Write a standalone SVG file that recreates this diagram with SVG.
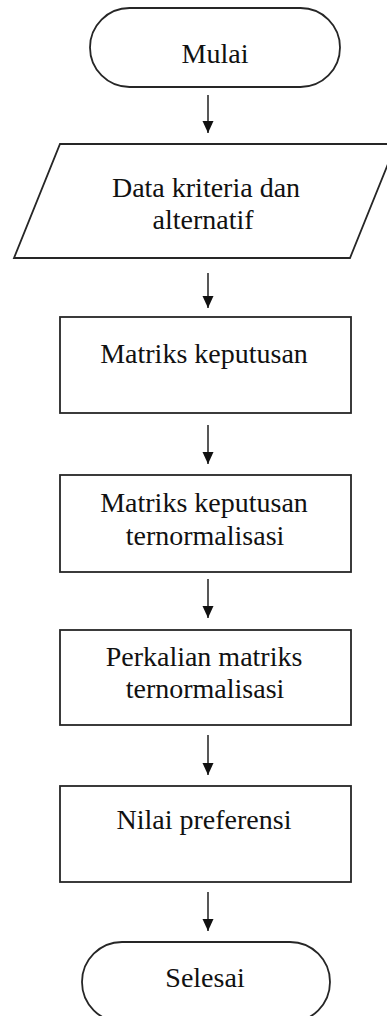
<svg xmlns="http://www.w3.org/2000/svg" width="387" height="1016" viewBox="0 0 387 1016">
<style>
.shape{fill:#fff;stroke:#262626;stroke-width:1.8}
.lbl{font-size:28px;fill:#111;text-anchor:middle}
.conn{stroke:#111;stroke-width:1.4;fill:none}
</style>
<defs>
<marker id="ah" markerUnits="userSpaceOnUse" markerWidth="12" markerHeight="13" viewBox="0 0 12 13" refX="12" refY="6.5" orient="auto">
<path d="M0,1 L12,6.5 L0,12 z" fill="#111"/>
</marker>
</defs>
<rect width="387" height="1016" fill="#fff"/>
<g id="connectors">
<line class="conn" x1="208" y1="95" x2="208" y2="133" marker-end="url(#ah)"/>
<line class="conn" x1="208" y1="273" x2="208" y2="308" marker-end="url(#ah)"/>
<line class="conn" x1="208" y1="425" x2="208" y2="464" marker-end="url(#ah)"/>
<line class="conn" x1="208" y1="579" x2="208" y2="618" marker-end="url(#ah)"/>
<line class="conn" x1="208" y1="735" x2="208" y2="775" marker-end="url(#ah)"/>
<line class="conn" x1="208" y1="892" x2="208" y2="931" marker-end="url(#ah)"/>
</g>
<g font-family="'Liberation Serif', 'DejaVu Serif', serif">
<g id="start">
<rect class="shape" x="90" y="8" width="250" height="79" rx="39.5" ry="39.5"/>
<text class="lbl" x="215" y="63">Mulai</text>
</g>
<g id="input">
<polygon class="shape" points="60,144 396,144 350,258 14,258"/>
<text class="lbl" x="206" y="197">Data kriteria dan</text>
<text class="lbl" x="203" y="229">alternatif</text>
</g>
<g id="matriks">
<rect class="shape" x="60" y="317" width="291" height="96"/>
<text class="lbl" x="204" y="363">Matriks keputusan</text>
</g>
<g id="normalisasi">
<rect class="shape" x="60" y="475" width="291" height="97"/>
<text class="lbl" x="204" y="512">Matriks keputusan</text>
<text class="lbl" x="205" y="545">ternormalisasi</text>
</g>
<g id="perkalian">
<rect class="shape" x="60" y="630" width="291" height="95"/>
<text class="lbl" x="204" y="666">Perkalian matriks</text>
<text class="lbl" x="205" y="698">ternormalisasi</text>
</g>
<g id="preferensi">
<rect class="shape" x="60" y="786" width="291" height="96"/>
<text class="lbl" x="204" y="829">Nilai preferensi</text>
</g>
<g id="end">
<rect class="shape" x="82" y="942" width="248" height="80" rx="40" ry="40"/>
<text class="lbl" x="205" y="987">Selesai</text>
</g>
</g>
</svg>
